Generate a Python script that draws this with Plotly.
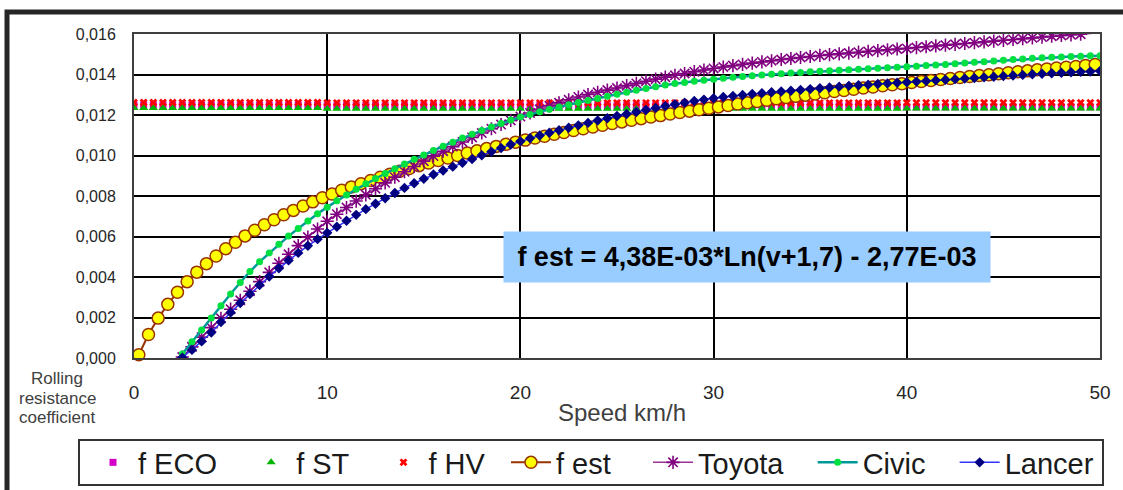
import plotly.graph_objects as go

# ---------------- data ----------------
SPEED_FLAT = [round(0.5 * i, 2) for i in range(101)]          # 0 .. 50 km/h
SPEED_EST = [round(0.25 + 0.5 * i, 2) for i in range(100)]    # 0.25 .. 49.75 km/h
SPEED_CAR = [round(2.5 + 0.5 * i, 2) for i in range(96)]      # 2.5 .. 50 km/h

F_ECO = [
    0.01249, 0.01249, 0.01249, 0.01249, 0.01249, 0.01249, 0.01249, 0.01249, 0.01249, 0.01249,
    0.01249, 0.01249, 0.01249, 0.01249, 0.01249, 0.01249, 0.01249, 0.01249, 0.01249, 0.01249,
    0.01246, 0.01246, 0.01246, 0.01246, 0.01246, 0.01246, 0.01246, 0.01246, 0.01246, 0.01246,
    0.01246, 0.01246, 0.01246, 0.01246, 0.01246, 0.01246, 0.01246, 0.01246, 0.01246, 0.01246,
    0.01246, 0.01246, 0.01246, 0.01246, 0.01246, 0.01246, 0.01246, 0.01246, 0.01246, 0.01246,
    0.01246, 0.01246, 0.01246, 0.01246, 0.01246, 0.01246, 0.01246, 0.01246, 0.01246, 0.01246,
    0.01246, 0.01246, 0.01246, 0.01246, 0.01246, 0.01246, 0.01246, 0.01246, 0.01246, 0.01246,
    0.01246, 0.01246, 0.01246, 0.01246, 0.01246, 0.01246, 0.01246, 0.01246, 0.01246, 0.01246,
    0.01240, 0.01240, 0.01240, 0.01240, 0.01240, 0.01240, 0.01240, 0.01240, 0.01240, 0.01240,
    0.01240, 0.01240, 0.01240, 0.01240, 0.01240, 0.01240, 0.01240, 0.01240, 0.01240, 0.01240,
    0.01240,
]
F_ST = [
    0.01234, 0.01234, 0.01234, 0.01234, 0.01234, 0.01234, 0.01234, 0.01234, 0.01234, 0.01234,
    0.01234, 0.01234, 0.01234, 0.01234, 0.01234, 0.01234, 0.01234, 0.01234, 0.01234, 0.01234,
    0.01231, 0.01231, 0.01231, 0.01231, 0.01231, 0.01231, 0.01231, 0.01231, 0.01231, 0.01231,
    0.01231, 0.01231, 0.01231, 0.01231, 0.01231, 0.01231, 0.01231, 0.01231, 0.01231, 0.01231,
    0.01231, 0.01231, 0.01231, 0.01231, 0.01231, 0.01231, 0.01231, 0.01231, 0.01231, 0.01231,
    0.01231, 0.01231, 0.01231, 0.01231, 0.01231, 0.01231, 0.01231, 0.01231, 0.01231, 0.01231,
    0.01231, 0.01231, 0.01231, 0.01231, 0.01231, 0.01231, 0.01231, 0.01231, 0.01231, 0.01231,
    0.01231, 0.01231, 0.01231, 0.01231, 0.01231, 0.01231, 0.01231, 0.01231, 0.01231, 0.01231,
    0.01232, 0.01232, 0.01232, 0.01232, 0.01232, 0.01232, 0.01232, 0.01232, 0.01232, 0.01232,
    0.01232, 0.01232, 0.01232, 0.01232, 0.01232, 0.01232, 0.01232, 0.01232, 0.01232, 0.01232,
    0.01232,
]
F_HV = [
    0.01262, 0.01262, 0.01262, 0.01262, 0.01262, 0.01262, 0.01262, 0.01262, 0.01262, 0.01262,
    0.01262, 0.01262, 0.01262, 0.01262, 0.01262, 0.01262, 0.01262, 0.01262, 0.01262, 0.01262,
    0.01260, 0.01260, 0.01260, 0.01260, 0.01260, 0.01260, 0.01260, 0.01260, 0.01260, 0.01260,
    0.01260, 0.01260, 0.01260, 0.01260, 0.01260, 0.01260, 0.01260, 0.01260, 0.01260, 0.01260,
    0.01260, 0.01260, 0.01260, 0.01260, 0.01260, 0.01260, 0.01260, 0.01260, 0.01260, 0.01260,
    0.01260, 0.01260, 0.01260, 0.01260, 0.01260, 0.01260, 0.01260, 0.01260, 0.01260, 0.01260,
    0.01260, 0.01260, 0.01260, 0.01260, 0.01260, 0.01260, 0.01260, 0.01260, 0.01260, 0.01260,
    0.01260, 0.01260, 0.01260, 0.01260, 0.01260, 0.01260, 0.01260, 0.01260, 0.01260, 0.01260,
    0.01261, 0.01261, 0.01261, 0.01261, 0.01261, 0.01261, 0.01261, 0.01261, 0.01261, 0.01261,
    0.01261, 0.01261, 0.01261, 0.01261, 0.01261, 0.01261, 0.01261, 0.01261, 0.01261, 0.01261,
    0.01261,
]
F_EST = [
    0.00016, 0.00116, 0.00197, 0.00265, 0.00325, 0.00377, 0.00424, 0.00466, 0.00504, 0.00540,
    0.00572, 0.00603, 0.00631, 0.00658, 0.00683, 0.00707, 0.00729, 0.00751, 0.00771, 0.00791,
    0.00810, 0.00828, 0.00845, 0.00861, 0.00877, 0.00893, 0.00908, 0.00922, 0.00936, 0.00950,
    0.00963, 0.00975, 0.00988, 0.01000, 0.01012, 0.01023, 0.01034, 0.01045, 0.01055, 0.01066,
    0.01076, 0.01086, 0.01095, 0.01105, 0.01114, 0.01123, 0.01132, 0.01141, 0.01149, 0.01158,
    0.01166, 0.01174, 0.01182, 0.01190, 0.01197, 0.01205, 0.01212, 0.01219, 0.01226, 0.01233,
    0.01240, 0.01247, 0.01254, 0.01260, 0.01267, 0.01273, 0.01280, 0.01286, 0.01292, 0.01298,
    0.01304, 0.01310, 0.01316, 0.01321, 0.01327, 0.01333, 0.01338, 0.01344, 0.01349, 0.01354,
    0.01360, 0.01365, 0.01370, 0.01375, 0.01380, 0.01385, 0.01390, 0.01395, 0.01399, 0.01404,
    0.01409, 0.01414, 0.01418, 0.01423, 0.01427, 0.01432, 0.01436, 0.01440, 0.01445, 0.01449,
]
TOYOTA = [
    0.00005, 0.00055, 0.00103, 0.00150, 0.00196, 0.00241, 0.00285, 0.00330, 0.00377, 0.00423,
    0.00468, 0.00512, 0.00555, 0.00597, 0.00637, 0.00675, 0.00710, 0.00743, 0.00775, 0.00806,
    0.00836, 0.00865, 0.00893, 0.00920, 0.00946, 0.00972, 0.00997, 0.01021, 0.01044, 0.01067,
    0.01089, 0.01111, 0.01132, 0.01153, 0.01173, 0.01192, 0.01210, 0.01228, 0.01245, 0.01260,
    0.01275, 0.01289, 0.01301, 0.01312, 0.01323, 0.01333, 0.01345, 0.01356, 0.01367, 0.01377,
    0.01387, 0.01396, 0.01405, 0.01414, 0.01422, 0.01430, 0.01437, 0.01444, 0.01450, 0.01456,
    0.01462, 0.01468, 0.01474, 0.01479, 0.01484, 0.01489, 0.01494, 0.01498, 0.01502, 0.01506,
    0.01510, 0.01514, 0.01518, 0.01522, 0.01526, 0.01529, 0.01533, 0.01537, 0.01541, 0.01545,
    0.01549, 0.01553, 0.01557, 0.01561, 0.01565, 0.01569, 0.01573, 0.01577, 0.01581, 0.01585,
    0.01589, 0.01593, 0.01596, 0.01599, 0.01603, 0.01606,
]
CIVIC = [
    0.00020, 0.00080, 0.00138, 0.00198, 0.00258, 0.00316, 0.00373, 0.00427, 0.00475, 0.00519,
    0.00562, 0.00602, 0.00640, 0.00677, 0.00712, 0.00745, 0.00776, 0.00805, 0.00833, 0.00860,
    0.00886, 0.00911, 0.00935, 0.00958, 0.00981, 0.01003, 0.01025, 0.01046, 0.01066, 0.01086,
    0.01105, 0.01123, 0.01141, 0.01158, 0.01175, 0.01190, 0.01203, 0.01216, 0.01228, 0.01240,
    0.01251, 0.01262, 0.01272, 0.01282, 0.01292, 0.01302, 0.01312, 0.01322, 0.01331, 0.01340,
    0.01348, 0.01355, 0.01361, 0.01367, 0.01372, 0.01377, 0.01382, 0.01386, 0.01390, 0.01394,
    0.01398, 0.01401, 0.01404, 0.01407, 0.01410, 0.01413, 0.01416, 0.01418, 0.01421, 0.01423,
    0.01426, 0.01428, 0.01431, 0.01433, 0.01436, 0.01438, 0.01441, 0.01444, 0.01447, 0.01450,
    0.01453, 0.01457, 0.01460, 0.01463, 0.01467, 0.01470, 0.01474, 0.01477, 0.01480, 0.01483,
    0.01485, 0.01487, 0.01489, 0.01490, 0.01492, 0.01493,
]
LANCER = [
    0.00002, 0.00040, 0.00082, 0.00126, 0.00178, 0.00225, 0.00271, 0.00316, 0.00360, 0.00402,
    0.00443, 0.00482, 0.00519, 0.00554, 0.00587, 0.00618, 0.00648, 0.00678, 0.00707, 0.00735,
    0.00762, 0.00789, 0.00815, 0.00840, 0.00863, 0.00885, 0.00906, 0.00926, 0.00945, 0.00964,
    0.00983, 0.01001, 0.01019, 0.01037, 0.01054, 0.01070, 0.01085, 0.01099, 0.01112, 0.01125,
    0.01137, 0.01149, 0.01161, 0.01173, 0.01184, 0.01195, 0.01205, 0.01215, 0.01225, 0.01235,
    0.01244, 0.01253, 0.01261, 0.01269, 0.01276, 0.01283, 0.01289, 0.01294, 0.01299, 0.01304,
    0.01308, 0.01312, 0.01316, 0.01320, 0.01324, 0.01328, 0.01332, 0.01336, 0.01340, 0.01344,
    0.01347, 0.01350, 0.01353, 0.01356, 0.01359, 0.01362, 0.01365, 0.01368, 0.01371, 0.01374,
    0.01377, 0.01380, 0.01383, 0.01386, 0.01389, 0.01392, 0.01395, 0.01398, 0.01401, 0.01404,
    0.01406, 0.01409, 0.01411, 0.01413, 0.01415, 0.01417,
]

X_TICKS = [0, 10, 20, 30, 40, 50]
Y_TICKS = [0.000, 0.002, 0.004, 0.006, 0.008, 0.010, 0.012, 0.014, 0.016]

FORMULA = "f est = 4,38E-03*Ln(v+1,7) - 2,77E-03"
X_TITLE = "Speed km/h"
Y_TITLE_LINES = ["Rolling", "resistance", "coefficient"]

# ---------------- layout geometry (pixels) ----------------
W, H = 1123, 490
ML, MR, MT, MB = 134, 23, 34, 132
PW, PH = W - ML - MR, H - MT - MB
FONT = "Arial, 'Liberation Sans', sans-serif"
NB = "\u00a0"


def px_x(px):
    return (px - ML) / PW


def px_y(py):
    return (H - MB - py) / PH


fig = go.Figure()

fig.add_trace(go.Scatter(x=SPEED_FLAT, y=F_ECO, mode="markers", name="f ECO" + NB * 3,
                         marker=dict(symbol="square", size=7, color="#D400C8")))
fig.add_trace(go.Scatter(x=SPEED_FLAT, y=F_ST, mode="markers", name="f ST" + NB * 3,
                         marker=dict(symbol="triangle-up", size=8, color="#00B400")))
fig.add_trace(go.Scatter(x=SPEED_FLAT, y=F_HV, mode="markers", name="f HV" + NB * 2,
                         marker=dict(symbol="x", size=7, color="#FF0000")))
fig.add_trace(go.Scatter(x=SPEED_EST, y=F_EST, mode="lines+markers", name="f est" + NB * 4,
                         line=dict(color="#993300", width=2), cliponaxis=False,
                         marker=dict(symbol="circle", size=12, color="#FFFF00",
                                     line=dict(color="#993300", width=1.5))))
fig.add_trace(go.Scatter(x=SPEED_CAR, y=TOYOTA, mode="lines+markers", name="Toyota" + NB * 3,
                         line=dict(color="#993399", width=1.5),
                         marker=dict(symbol="asterisk-open", size=11, color="#800080",
                                     line=dict(color="#800080", width=1.6))))
fig.add_trace(go.Scatter(x=SPEED_CAR, y=CIVIC, mode="lines+markers", name="Civic" + NB * 3,
                         line=dict(color="#009999", width=2.5),
                         marker=dict(symbol="circle", size=7, color="#00E040")))
fig.add_trace(go.Scatter(x=SPEED_CAR, y=LANCER, mode="lines+markers", name="Lancer",
                         line=dict(color="#3333FF", width=1.5),
                         marker=dict(symbol="diamond", size=8, color="#000080")))

axis_common = dict(showgrid=True, gridcolor="#000000", gridwidth=1.6,
                   showline=True, linecolor="#404040", linewidth=2, mirror=True,
                   zeroline=False, ticks="")

fig.update_xaxes(range=[0, 50], tickvals=X_TICKS, ticktext=[str(v) for v in X_TICKS],
                 tickfont=dict(family=FONT, size=19, color="#262626"),
                 ticklabelstandoff=16, **axis_common)
fig.update_yaxes(range=[0, 0.016], tickvals=Y_TICKS, tickformat=".3f",
                 tickfont=dict(family=FONT, size=16, color="#262626"),
                 ticklabelstandoff=13, **axis_common)

annotations = [
    dict(text=X_TITLE, x=px_x(622), y=px_y(412), xref="paper", yref="paper",
         showarrow=False, xanchor="center", yanchor="middle",
         font=dict(family=FONT, size=24, color="#404040")),
    dict(text="<b>" + FORMULA + "</b>", x=px_x(747), y=px_y(257), xref="paper", yref="paper",
         showarrow=False, xanchor="center", yanchor="middle", bgcolor="#99CCFF",
         width=486, height=50, borderpad=0,
         font=dict(family=FONT, size=27, color="#000000")),
]
for txt, py in zip(Y_TITLE_LINES, [378, 398, 417]):
    annotations.append(dict(text=txt, x=px_x(57), y=px_y(py), xref="paper", yref="paper",
                            showarrow=False, xanchor="center", yanchor="middle",
                            font=dict(family=FONT, size=17, color="#404040")))

shapes = [
    # outer chart frame
    dict(type="rect", xref="paper", yref="paper", x0=px_x(7), x1=px_x(1180),
         y0=px_y(540), y1=px_y(12), line=dict(color="#262626", width=5)),
    # legend box
    dict(type="rect", xref="paper", yref="paper", x0=px_x(79), x1=px_x(1103),
         y0=px_y(485), y1=px_y(440), line=dict(color="#333333", width=2)),
]

fig.update_layout(
    width=W, height=H,
    margin=dict(l=ML, r=MR, t=MT, b=MB, autoexpand=False),
    separators=",.",
    paper_bgcolor="white", plot_bgcolor="white",
    annotations=annotations, shapes=shapes,
    showlegend=True,
    legend=dict(orientation="h", x=px_x(88), y=px_y(462.5), xanchor="left", yanchor="middle",
                font=dict(family=FONT, size=29, color="#1a1a1a"), itemwidth=40,
                bgcolor="rgba(0,0,0,0)", borderwidth=0, itemclick=False),
)

fig.write_html("out.html")
